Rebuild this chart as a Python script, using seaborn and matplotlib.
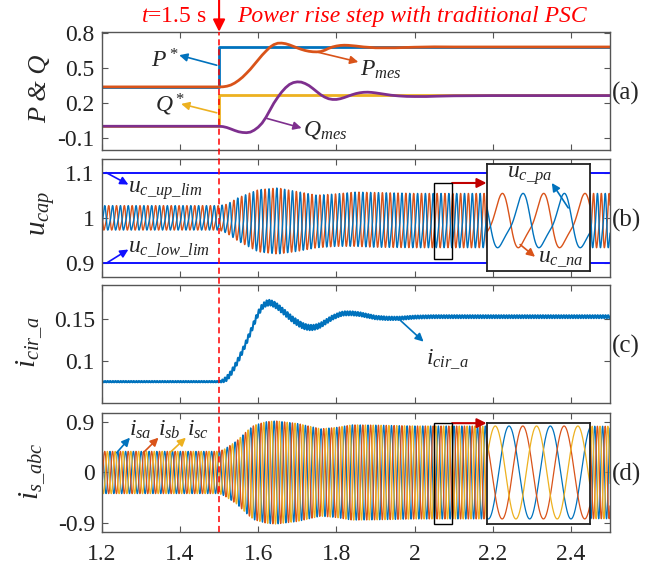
import numpy as np
import pandas as pd
import seaborn as sns
import matplotlib.pyplot as plt
from matplotlib.patches import Rectangle, FancyArrowPatch
from matplotlib.lines import Line2D

# ---- data -----------------------------------------------------------------
# (a) references and measured powers
p_ref_t = [1.2, 1.5, 1.5, 2.5]
p_ref = [0.339, 0.339, 0.677, 0.677]
q_ref_t = [1.2, 1.5, 1.5, 2.5]
q_ref = [0.003, 0.003, 0.266, 0.266]

p_mes_t = [1.2, 1.5, 1.51, 1.52, 1.53, 1.54, 1.55, 1.56, 1.57, 1.58, 1.59, 1.60, 1.61,
           1.62, 1.63, 1.64, 1.65, 1.66, 1.67, 1.68, 1.69, 1.70, 1.71, 1.72, 1.73, 1.74,
           1.75, 1.76, 1.77, 1.78, 1.79, 1.80, 1.81, 1.82, 1.83, 1.85, 1.87, 1.90, 1.95,
           2.00, 2.05, 2.10, 2.50]
p_mes = [0.339, 0.339, 0.340, 0.345, 0.355, 0.372, 0.395, 0.422, 0.455, 0.490, 0.530, 0.570,
         0.610, 0.645, 0.678, 0.700, 0.712, 0.713, 0.708, 0.698, 0.685, 0.672, 0.660, 0.650,
         0.643, 0.639, 0.638, 0.641, 0.652, 0.668, 0.680, 0.688, 0.693, 0.695, 0.694, 0.688,
         0.680, 0.673, 0.673, 0.678, 0.681, 0.680, 0.680]

q_mes_t = [1.2, 1.5, 1.51, 1.52, 1.53, 1.54, 1.55, 1.56, 1.57, 1.58, 1.59, 1.60, 1.61,
           1.62, 1.63, 1.64, 1.65, 1.66, 1.67, 1.68, 1.69, 1.70, 1.71, 1.72, 1.73, 1.74,
           1.75, 1.76, 1.77, 1.78, 1.79, 1.80, 1.81, 1.82, 1.83, 1.84, 1.85, 1.86, 1.87,
           1.88, 1.89, 1.90, 1.92, 1.94, 1.96, 1.98, 2.00, 2.03, 2.06, 2.10, 2.20, 2.50]
q_mes = [0.003, 0.003, 0.0, -0.008, -0.020, -0.033, -0.044, -0.050, -0.052, -0.047, -0.030,
         -0.005, 0.030, 0.080, 0.140, 0.200, 0.250, 0.295, 0.332, 0.360, 0.376, 0.382, 0.380,
         0.368, 0.350, 0.325, 0.298, 0.272, 0.252, 0.238, 0.232, 0.232, 0.238, 0.248, 0.260,
         0.272, 0.282, 0.289, 0.293, 0.294, 0.292, 0.288, 0.278, 0.268, 0.262, 0.258, 0.257,
         0.257, 0.260, 0.263, 0.265, 0.265]

# (b) capacitor voltage band (upper / lower envelope)
cap_env_t = [1.2, 1.5, 1.52, 1.55, 1.6, 1.65, 1.7, 1.75, 1.8, 1.85, 1.9, 2.0, 2.5]
cap_top = [1.027, 1.027, 1.030, 1.045, 1.062, 1.066, 1.058, 1.050, 1.053, 1.057, 1.056, 1.054, 1.054]
cap_bot = [0.973, 0.973, 0.966, 0.948, 0.925, 0.920, 0.926, 0.934, 0.937, 0.937, 0.935, 0.934, 0.934]
cap_up_lim = 1.1
cap_low_lim = 0.9

# (c) circulating current (mean) and its ripple
cir_t = [1.2, 1.5, 1.51, 1.52, 1.53, 1.54, 1.55, 1.56, 1.57, 1.58, 1.59, 1.60, 1.61, 1.62,
         1.63, 1.64, 1.65, 1.66, 1.67, 1.68, 1.69, 1.70, 1.71, 1.72, 1.73, 1.74, 1.75, 1.76,
         1.77, 1.78, 1.79, 1.80, 1.81, 1.82, 1.83, 1.84, 1.86, 1.88, 1.90, 1.93, 1.96, 2.00,
         2.05, 2.50]
cir = [0.075, 0.075, 0.076, 0.079, 0.085, 0.093, 0.102, 0.112, 0.123, 0.134, 0.146, 0.157,
       0.165, 0.169, 0.170, 0.168, 0.165, 0.161, 0.157, 0.153, 0.149, 0.146, 0.143, 0.141,
       0.140, 0.140, 0.141, 0.143, 0.146, 0.149, 0.152, 0.154, 0.156, 0.157, 0.157, 0.157,
       0.156, 0.154, 0.152, 0.151, 0.151, 0.1525, 0.153, 0.153]
cir_rip_t = [1.2, 1.5, 1.52, 1.7, 1.8, 2.0, 2.5]
cir_rip = [0.0008, 0.0008, 0.003, 0.0035, 0.0025, 0.0018, 0.0018]

# (d) grid current amplitude
is_env_t = [1.2, 1.5, 1.515, 1.545, 1.575, 1.59, 1.62, 1.645, 1.7, 1.76, 1.8, 1.84, 1.9, 2.0, 2.5]
is_amp = [0.375, 0.375, 0.42, 0.56, 0.76, 0.84, 0.90, 0.915, 0.87, 0.775, 0.80, 0.845, 0.84, 0.825, 0.82]

f_grid = 50.0
x_ticks = [1.2, 1.4, 1.6, 1.8, 2.0, 2.2, 2.4]
x_tick_labels = ['1.2', '1.4', '1.6', '1.8', '2', '2.2', '2.4']

# ---- build the time series ---------------------------------------------------
t = np.arange(1.2, 2.5 + 1e-9, 0.0002)
w = 2 * np.pi * f_grid

# capacitor voltage shape: fundamental + 2nd harmonic, normalised to [-1, 1]
def cap_shape(theta):
    return np.sin(theta) + 0.25 * np.sin(2 * theta + 7 * np.pi / 6)

th = np.linspace(0, 2 * np.pi, 4000)
fs = cap_shape(th)
fmax, fmin = fs.max(), fs.min()
th_pk = th[np.argmax(fs)]
phi_cap = th_pk - w * 2.0677

def cap_norm(theta):
    return 2 * (cap_shape(theta) - fmin) / (fmax - fmin) - 1

top = np.interp(t, cap_env_t, cap_top)
bot = np.interp(t, cap_env_t, cap_bot)
mid, half = (top + bot) / 2, (top - bot) / 2
u_pa = mid + half * cap_norm(w * t + phi_cap)
u_na = mid + half * cap_norm(w * t + phi_cap + np.pi)

i_cir = np.interp(t, cir_t, cir) + np.interp(t, cir_rip_t, cir_rip) * np.sin(2 * np.pi * 150 * t)

amp = np.interp(t, is_env_t, is_amp)
phi_a = 2 * np.pi * 0.205
i_sa = amp * np.sin(w * t + phi_a)
i_sb = amp * np.sin(w * t + phi_a - 2 * np.pi / 3)
i_sc = amp * np.sin(w * t + phi_a + 2 * np.pi / 3)

df = pd.DataFrame({'t': t, 'u_pa': u_pa, 'u_na': u_na, 'i_cir': i_cir,
                   'i_sa': i_sa, 'i_sb': i_sb, 'i_sc': i_sc})

# ---- style -------------------------------------------------------------------
sns.set_theme(style='ticks')
plt.rcParams.update({
    'font.family': 'serif',
    'font.serif': ['Liberation Serif', 'DejaVu Serif'],
    'mathtext.fontset': 'custom',
    'mathtext.rm': 'Liberation Serif',
    'mathtext.it': 'Liberation Serif:italic',
    'mathtext.bf': 'Liberation Serif:bold',
    'font.size': 17,
    'xtick.direction': 'in', 'ytick.direction': 'in',
    'xtick.top': True, 'ytick.right': True,
    'xtick.major.size': 4, 'ytick.major.size': 4,
    'xtick.major.width': 0.8, 'ytick.major.width': 0.8,
    'xtick.color': '#555555', 'ytick.color': '#555555',
    'xtick.labelcolor': '#222222', 'ytick.labelcolor': '#222222',
    'xtick.labelsize': 17, 'ytick.labelsize': 17,
    'axes.edgecolor': '#555555', 'axes.linewidth': 1.0,
})

BLUE, ORANGE, YELLOW, PURPLE = '#0072BD', '#D95319', '#EDB120', '#7E2F8E'
LIMBLUE = '#1010FF'
DARKRED = '#C00000'
FS_ANN = 17

fig = plt.figure(figsize=(6.64, 5.67), dpi=100)
left, width = 0.1533, 0.7655
ax_a = fig.add_axes([left, 0.7354, width, 0.2086])
ax_b = fig.add_axes([left, 0.5120, width, 0.2076])
ax_c = fig.add_axes([left, 0.2887, width, 0.2086])
ax_d = fig.add_axes([left, 0.0623, width, 0.2088])
axes = [ax_a, ax_b, ax_c, ax_d]


def arrow(ax, head, tail, color, lw=1.2, ms=12, **kw):
    ax.annotate('', xy=head, xytext=tail,
                arrowprops=dict(arrowstyle='-|>', color=color, lw=lw, mutation_scale=ms,
                                shrinkA=0, shrinkB=0), **kw)


# (a)
sns.lineplot(x=p_ref_t, y=p_ref, ax=ax_a, color=BLUE, lw=2, estimator=None, sort=False)
sns.lineplot(x=q_ref_t, y=q_ref, ax=ax_a, color=YELLOW, lw=2, estimator=None, sort=False)
sns.lineplot(x=p_mes_t, y=p_mes, ax=ax_a, color=ORANGE, lw=2, estimator=None, sort=False)
sns.lineplot(x=q_mes_t, y=q_mes, ax=ax_a, color=PURPLE, lw=2, estimator=None, sort=False)
ax_a.set_ylim(-0.2, 0.81)
ax_a.set_yticks([-0.1, 0.2, 0.5, 0.8])
ax_a.set_yticklabels(['-0.1', '0.2', '0.5', '0.8'])
ax_a.set_ylabel('P & Q', fontstyle='italic', fontsize=19)
arrow(ax_a, (1.398, 0.61), (1.494, 0.524), BLUE)
ax_a.text(1.325, 0.504, '$P^*$', fontsize=FS_ANN, va='baseline')
arrow(ax_a, (1.403, 0.194), (1.494, 0.118), YELLOW)
ax_a.text(1.337, 0.127, '$Q^*$', fontsize=FS_ANN, va='baseline')
arrow(ax_a, (1.856, 0.552), (1.754, 0.634), ORANGE)
ax_a.text(1.860, 0.437, '$P_{mes}$', fontsize=FS_ANN, va='baseline')
arrow(ax_a, (1.711, -0.012), (1.622, 0.07), PURPLE)
ax_a.text(1.715, -0.075, '$Q_{mes}$', fontsize=FS_ANN, va='baseline')

# (b)
def draw_cap(ax, data):
    sns.lineplot(data=data, x='t', y='u_na', ax=ax, color=ORANGE, lw=1.0, estimator=None, sort=False)
    sns.lineplot(data=data, x='t', y='u_pa', ax=ax, color=BLUE, lw=1.0, estimator=None, sort=False)

draw_cap(ax_b, df)
ax_b.axhline(cap_up_lim, color=LIMBLUE, lw=1.4)
ax_b.axhline(cap_low_lim, color=LIMBLUE, lw=1.4)
ax_b.set_ylim(0.87, 1.13)
ax_b.set_yticks([0.9, 1.0, 1.1])
ax_b.set_yticklabels(['0.9', '1', '1.1'])
ax_b.set_ylabel('$u_{cap}$', fontsize=21)
arrow(ax_b, (1.268, 1.0735), (1.211, 1.1), LIMBLUE)
ax_b.text(1.2675, 1.055, r'$u_{c\_up\_lim}$', fontsize=FS_ANN, va='baseline')
arrow(ax_b, (1.268, 0.930), (1.212, 0.9), LIMBLUE)
ax_b.text(1.2675, 0.926, r'$u_{c\_low\_lim}$', fontsize=FS_ANN, va='baseline')

ax_b.add_patch(Rectangle((2.050, 0.9095), 0.046, 0.1665, fill=False, ec='black', lw=1.0, zorder=4))
arrow(ax_b, (2.184, 1.077), (2.096, 1.077), DARKRED, lw=1.5, ms=14)
ins_b = ax_b.inset_axes([2.184, 0.882, 0.264, 0.238], transform=ax_b.transData)
win = df[(df.t >= 2.05) & (df.t <= 2.10)]
draw_cap(ins_b, win)
ins_b.set_xlim(2.05, 2.10)
ins_b.set_ylim(0.882, 1.12)
ins_b.set_facecolor('white')
ins_b.set_xticks([])
ins_b.set_yticks([])
ins_b.set_xlabel('')
ins_b.set_ylabel('')
for s in ins_b.spines.values():
    s.set_color('#222222')
    s.set_linewidth(1.3)
ins_b.annotate('', xy=(2.351, 1.077), xytext=(2.393, 1.022), xycoords=ax_b.transData,
               textcoords=ax_b.transData,
               arrowprops=dict(arrowstyle='-|>', color=BLUE, lw=1.2, mutation_scale=12, shrinkA=0, shrinkB=0))
ins_b.text(2.2356, 1.088, r'$u_{c\_pa}$', transform=ax_b.transData, fontsize=FS_ANN, va='baseline')
ins_b.annotate('', xy=(2.308, 0.914), xytext=(2.27, 0.941), xycoords=ax_b.transData,
               textcoords=ax_b.transData,
               arrowprops=dict(arrowstyle='-|>', color=ORANGE, lw=1.2, mutation_scale=12, shrinkA=0, shrinkB=0))
ins_b.text(2.316, 0.902, r'$u_{c\_na}$', transform=ax_b.transData, fontsize=FS_ANN, va='baseline')

# (c)
sns.lineplot(data=df, x='t', y='i_cir', ax=ax_c, color=BLUE, lw=1.5, estimator=None, sort=False)
ax_c.set_ylim(0.049, 0.191)
ax_c.set_yticks([0.1, 0.15])
ax_c.set_yticklabels(['0.1', '0.15'])
ax_c.set_ylabel(r'$i_{cir\_a}$', fontsize=21)
arrow(ax_c, (2.023, 0.123), (1.958, 0.151), BLUE)
ax_c.text(2.029, 0.096, r'$i_{cir\_a}$', fontsize=FS_ANN, va='baseline')

# (d)
def draw_is(ax, data):
    sns.lineplot(data=data, x='t', y='i_sa', ax=ax, color=BLUE, lw=0.9, estimator=None, sort=False)
    sns.lineplot(data=data, x='t', y='i_sb', ax=ax, color=ORANGE, lw=0.9, estimator=None, sort=False)
    sns.lineplot(data=data, x='t', y='i_sc', ax=ax, color=YELLOW, lw=0.9, estimator=None, sort=False)

draw_is(ax_d, df)
ax_d.set_ylim(-1.05, 1.05)
ax_d.set_yticks([-0.9, 0, 0.9])
ax_d.set_yticklabels(['-0.9', '0', '0.9'])
ax_d.set_ylabel(r'$i_{s\_abc}$', fontsize=21)
arrow(ax_d, (1.272, 0.617), (1.238, 0.35), BLUE)
ax_d.text(1.27, 0.646, '$i_{sa}$', fontsize=FS_ANN, va='baseline')
arrow(ax_d, (1.345, 0.617), (1.306, 0.35), ORANGE)
ax_d.text(1.345, 0.646, '$i_{sb}$', fontsize=FS_ANN, va='baseline')
arrow(ax_d, (1.415, 0.617), (1.374, 0.35), YELLOW)
ax_d.text(1.417, 0.646, '$i_{sc}$', fontsize=FS_ANN, va='baseline')

ax_d.add_patch(Rectangle((2.05, -0.91), 0.046, 1.78, fill=False, ec='black', lw=1.0, zorder=4))
arrow(ax_d, (2.184, 0.875), (2.096, 0.875), DARKRED, lw=1.5, ms=14)
ins_d = ax_d.inset_axes([2.184, -0.92, 0.264, 1.80], transform=ax_d.transData)
draw_is(ins_d, win)
ins_d.set_xlim(2.05, 2.10)
ins_d.set_ylim(-0.92, 0.88)
ins_d.set_facecolor('white')
ins_d.set_xticks([])
ins_d.set_yticks([])
ins_d.set_xlabel('')
ins_d.set_ylabel('')
for s in ins_d.spines.values():
    s.set_color('#222222')
    s.set_linewidth(1.3)

# common axis settings
for ax, lab in zip(axes, ['(a)', '(b)', '(c)', '(d)']):
    ax.set_xlim(1.2, 2.5)
    ax.set_xticks(x_ticks)
    ax.set_xlabel('')
    ax.tick_params(axis='y', pad=5)
    ax.tick_params(axis='x', pad=9)
    ax.text(1.004, 0.48, lab, transform=ax.transAxes, ha='left', va='center', fontsize=18)
for ax in axes[:3]:
    ax.set_xticklabels([])
ax_d.set_xticklabels(x_tick_labels)

ax_a.yaxis.set_label_coords(-0.100, 0.52)
ax_b.yaxis.set_label_coords(-0.088, 0.54)
ax_c.yaxis.set_label_coords(-0.112, 0.52)
ax_d.yaxis.set_label_coords(-0.106, 0.51)

# event marker at t = 1.5 s spanning all panels
x_ev = left + (1.5 - 1.2) / 1.3 * width
fig.add_artist(Line2D([x_ev, x_ev], [0.0623, 0.944], transform=fig.transFigure,
                      color='red', lw=1.1, dashes=(4, 2.5)))
fig.add_artist(FancyArrowPatch((x_ev, 1.0), (x_ev, 0.944), transform=fig.transFigure,
                               arrowstyle='-|>', mutation_scale=18, color='red', lw=1.5,
                               shrinkA=0, shrinkB=0))
fig.text(x_ev - 0.018, 0.9706, '$t$=1.5 s', color='red', fontsize=17, ha='right', va='center')
fig.text(0.3565, 0.9706, 'Power rise step with traditional PSC', color='red', fontsize=17,
         fontstyle='italic', ha='left', va='center')

fig.savefig('out.png', dpi=100)
